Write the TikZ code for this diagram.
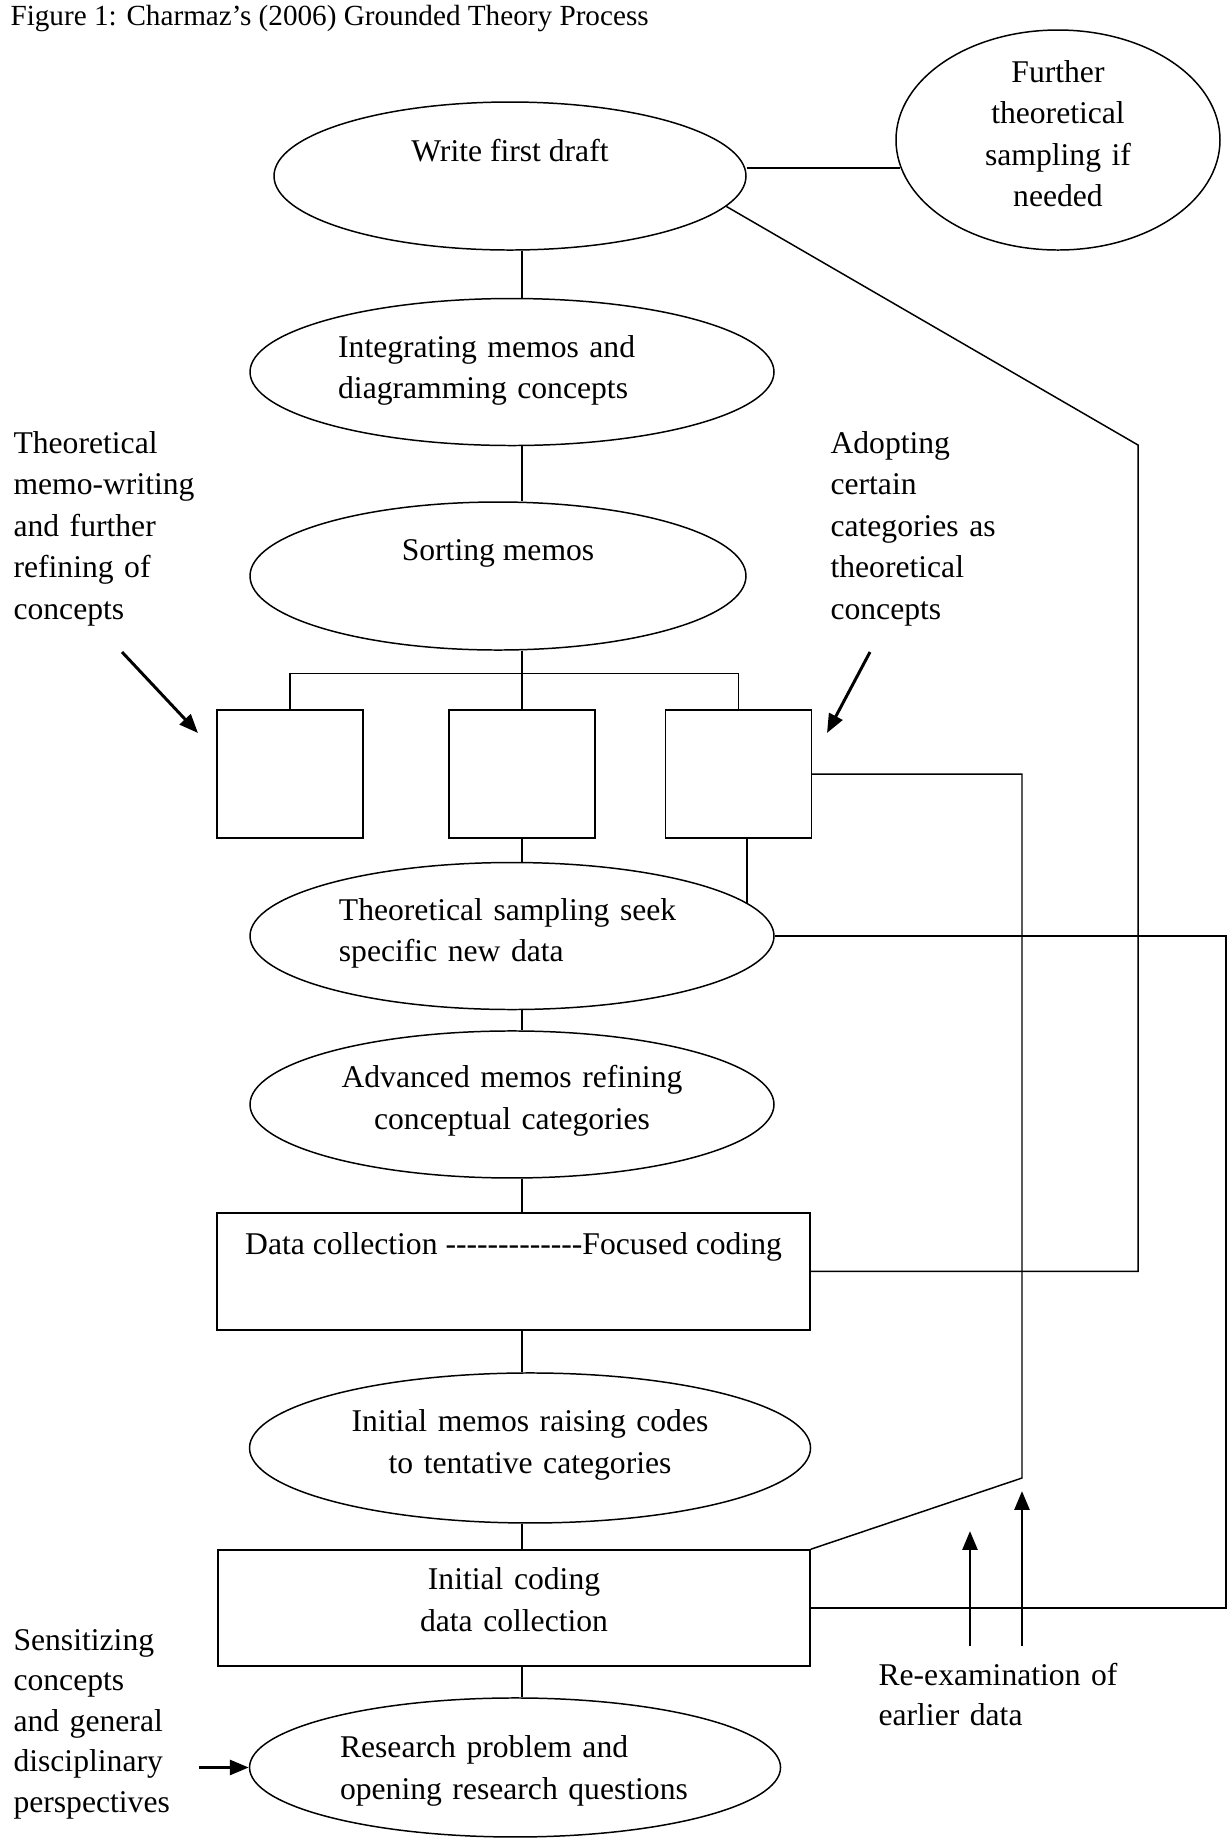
\documentclass[tikz,border=0pt]{standalone}
\usepackage{fontspec}
\setmainfont{Liberation Serif}
\usetikzlibrary{shapes.geometric, arrows.meta, positioning}
\tikzstyle{stage} = [ellipse, draw, line width=0.55pt, inner sep=0pt, text height=0pt, font=\fontsize{11.7}{15.4}\selectfont]
\tikzstyle{block} = [rectangle, draw, line width=0.55pt, inner sep=0pt, text height=0pt, font=\fontsize{11.7}{15.4}\selectfont]
\tikzstyle{note} = [anchor=base west, align=left, inner sep=0pt, font=\fontsize{11.7}{15.4}\selectfont]
\tikzstyle{link} = [line width=0.55pt]
\tikzstyle{arrow} = [line width=1.1pt, -{Triangle[length=7pt, width=5.5pt]}]
\newcommand{\dashrun}{\foreach \d in {1,...,13}{\mbox{-}}}

\begin{document}
\begin{tikzpicture}[node distance=2.5cm]
\useasboundingbox (0,0) rectangle (15.977,-23.933);

\node (title) [note, font=\fontsize{10.8}{13}\selectfont] at (0.13,-0.325) {Figure 1: Charmaz’s (2006) Grounded Theory Process};

\node (draft) [stage, minimum width=6.136cm, minimum height=1.924cm, text depth=0.39cm] at (6.63,-2.288) {Write first draft};
\node (further) [stage, right of=draft, xshift=4.624cm, yshift=0.468cm, minimum width=4.212cm, minimum height=2.86cm, text width=2.8cm, align=center, text depth=1.508cm] {Further\\theoretical\\sampling if\\needed};

\node (integ) [stage, below of=draft, xshift=0.026cm, yshift=-0.048cm, minimum width=6.812cm, minimum height=1.911cm, text width=4.52cm, align=left, text depth=0.39cm] {Integrating memos and\\diagramming concepts};
\node (sort) [stage, below of=integ, xshift=-0.182cm, yshift=-0.152cm, minimum width=6.448cm, minimum height=1.924cm, text depth=0.416cm] {Sorting memos};

\node (box2) [block, below of=sort, xshift=0.312cm, yshift=-0.074cm, minimum width=1.898cm, minimum height=1.664cm] {};
\node (box1) [block, left of=box2, xshift=-0.516cm, minimum width=1.898cm, minimum height=1.664cm] {};
\node (box3) [block, right of=box2, xshift=0.3145cm, minimum width=1.898cm, minimum height=1.664cm] {};

\node (tsamp) [stage, below of=box2, xshift=-0.13cm, yshift=0.394cm, minimum width=6.812cm, minimum height=1.911cm, text width=4.5cm, align=left, text depth=0.416cm] {Theoretical sampling seek\\specific new data};
\node (adv) [stage, below of=tsamp, yshift=0.31cm, minimum width=6.812cm, minimum height=1.911cm, text width=4.7cm, align=center, text depth=0.429cm] {Advanced memos refining\\conceptual categories};
\node (datacol) [block, below of=adv, xshift=0.02cm, yshift=0.329cm, minimum width=7.709cm, minimum height=1.521cm, text depth=0.429cm] {Data collection \dashrun Focused coding};
\node (initmemo) [stage, below of=datacol, xshift=0.2145cm, yshift=0.2055cm, minimum width=7.293cm, minimum height=1.95cm, text width=5cm, align=center, text depth=0.416cm] {Initial memos raising codes\\to tentative categories};
\node (initcode) [block, below of=initmemo, xshift=-0.208cm, yshift=0.42cm, minimum width=7.696cm, minimum height=1.508cm, text width=4cm, align=center, text depth=0.468cm] {Initial coding\\data collection};
\node (research) [stage, below of=initcode, xshift=0.013cm, yshift=0.4265cm, minimum width=6.903cm, minimum height=1.807cm, text width=4.55cm, align=left, text depth=0.247cm] {Research problem and\\opening research questions};

\node (memonote) [note, text width=2.6cm] at (0.169,-5.889) {Theoretical\\memo-writing\\and further\\refining of\\concepts};
\node (adoptnote) [note, text width=2.6cm] at (10.79,-5.889) {Adopting\\certain\\categories as\\theoretical\\concepts};
\node (sensnote) [note, text width=2.6cm, font=\fontsize{11.7}{15}\selectfont] at (0.169,-21.45) {Sensitizing\\concepts\\and general\\disciplinary\\perspectives};
\node (reexamnote) [note, text width=3.4cm, font=\fontsize{11.7}{15}\selectfont] at (11.414,-21.905) {Re-examination of\\earlier data};

\coordinate (loopC) at (14.794,-5.785);
\coordinate (loopA) at (13.286,-19.214);
\coordinate (loopB) at (15.938,-16);
\coordinate (memotail) at (1.586,-8.476);
\coordinate (memotip) at (2.574,-9.529);
\coordinate (adopttail) at (11.31,-8.476);
\coordinate (adopttip) at (10.751,-9.529);
\coordinate (senstail) at (2.587,-22.919);
\coordinate (reexamtailA) at (12.61,-21.398);
\coordinate (reexamtipA) at (12.61,-19.903);
\coordinate (reexamtailB) at (13.286,-21.398);
\coordinate (reexamtipB) at (13.286,-19.383);

\draw[link] (draft.east |- further.190) -- (further.190);
\draw[link] (draft.-8) -- (loopC) |- (datacol.east);
\draw[link] (draft.south -| box2) -- (integ.north -| box2);
\draw[link] (integ.south -| box2) -- (sort.north -| box2);
\draw[link] (sort.south -| box2) -- (box2.north);
\draw[link] (box1.north) -- ++(0,0.468) -| (box3.north);
\draw[link] (box2.south) -- (box2.south |- tsamp.north);
\draw[link] (tsamp.8 |- box3.south) -- (tsamp.8);
\draw[link] (box3.east) -| (loopA) -- (initcode.north east);
\draw[link] (tsamp.east) -| (loopB) |- (initcode.east);
\draw[link] (tsamp.south -| box2) -- (adv.north -| box2);
\draw[link] (adv.south -| box2) -- (datacol.north -| box2);
\draw[link] (datacol.south -| box2) -- (initmemo.north -| box2);
\draw[link] (initmemo.south -| box2) -- (initcode.north -| box2);
\draw[link] (initcode.south -| box2) -- (research.north -| box2);

\draw[arrow] (memotail) -- (memotip);
\draw[arrow] (adopttail) -- (adopttip);
\draw[arrow] (senstail |- research.west) -- (research.west);
\draw[arrow] (reexamtailA) -- (reexamtipA);
\draw[arrow] (reexamtailB) -- (reexamtipB);

\end{tikzpicture}
\end{document}
